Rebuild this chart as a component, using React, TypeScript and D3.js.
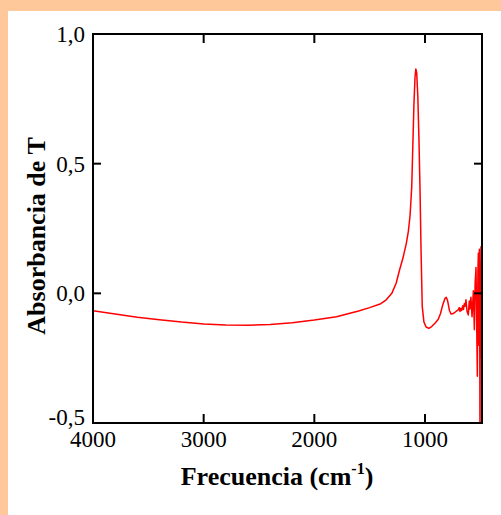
import React from "react";
import * as d3 from "d3";

const wavenumbers = [
  4000, 3800, 3600, 3400, 3200, 3000, 2800, 2600, 2400, 2200, 2000, 1800, 1600, 1500, 1400, 1350,
  1300, 1260, 1230, 1200, 1170, 1150, 1135, 1120, 1110, 1100, 1090, 1083, 1075, 1065, 1055, 1045,
  1035, 1025, 1010, 990, 965, 940, 910, 880, 860, 840, 820, 808, 795, 780, 765, 745, 720, 700,
  690, 684, 676, 668, 660, 652, 645, 639, 630, 620, 609, 600, 594, 585, 575, 563, 554, 547, 539,
  533, 527, 522, 518, 513, 509, 506, 503, 500, 497, 494, 491, 488, 486,
];
const absorbance = [
  -0.067, -0.08, -0.092, -0.102, -0.111, -0.118, -0.122, -0.123, -0.12, -0.113, -0.103, -0.09,
  -0.068, -0.055, -0.04, -0.025, 0.0, 0.04, 0.09, 0.135, 0.19, 0.24, 0.3, 0.41, 0.57, 0.73, 0.835,
  0.865, 0.85, 0.76, 0.6, 0.4, 0.15, -0.05, -0.11, -0.13, -0.135, -0.128, -0.115, -0.1, -0.078,
  -0.045, -0.02, -0.015, -0.03, -0.065, -0.08, -0.078, -0.07, -0.064, -0.055, -0.07, -0.058,
  -0.066, -0.048, -0.062, -0.04, -0.05, -0.025, -0.07, -0.083, -0.03, -0.06, -0.015, -0.09, 0.01,
  -0.14, 0.04, 0.1, -0.12, -0.32, 0.08, 0.155, -0.2, 0.17, -0.05, -0.6, 0.12, -0.25, 0.18, -0.1,
  0.05, -0.6,
];
const xTicks = [4000, 3000, 2000, 1000];
const yTicks = [1.0, 0.5, 0.0, -0.5];
const xTickLabels = ["4000", "3000", "2000", "1000"];
const yTickLabels = ["1,0", "0,5", "0,0", "-0,5"];

export default function App() {
  const W = 501;
  const H = 515;
  const left = 93;
  const right = 482;
  const top = 34;
  const bottom = 423;

  const x = d3.scaleLinear().domain([4000, 485]).range([left, right]);
  const y = d3.scaleLinear().domain([-0.5, 1.0]).range([bottom, top]);

  const data = wavenumbers.map((w, i) => ({ w, a: absorbance[i] }));
  const line = d3
    .line<{ w: number; a: number }>()
    .x((d) => x(d.w))
    .y((d) => y(d.a))
    .curve(d3.curveLinear);

  const fontStyle = { fontFamily: '"Liberation Serif", "Times New Roman", Times, serif' };

  return (
    <svg
      width={W}
      height={H}
      style={{ position: "absolute", left: 0, top: 0, display: "block" }}
    >
      <rect x={0} y={0} width={W} height={H} fill="#FFC89A" />
      <rect x={8} y={11} width={W - 8} height={H - 11} fill="#FFFFFF" />
      <defs>
        <clipPath id="plotclip">
          <rect x={left} y={top} width={right - left} height={bottom - top} />
        </clipPath>
      </defs>
      <path
        d={line(data) || ""}
        fill="none"
        stroke="#FF0000"
        strokeWidth={1.5}
        strokeLinejoin="round"
        clipPath="url(#plotclip)"
      />
      <rect
        x={left}
        y={top}
        width={right - left}
        height={bottom - top}
        fill="none"
        stroke="#000"
        strokeWidth={2}
      />
      {xTicks.map((t, i) => (
        <g key={"xt" + i}>
          <line x1={x(t)} x2={x(t)} y1={bottom} y2={bottom - 9} stroke="#000" strokeWidth={2} />
          <line x1={x(t)} x2={x(t)} y1={top} y2={top + 9} stroke="#000" strokeWidth={2} />
          <text x={x(t)} y={447} textAnchor="middle" style={fontStyle} fontSize={23} fill="#000">
            {xTickLabels[i]}
          </text>
        </g>
      ))}
      {yTicks.map((t, i) => (
        <g key={"yt" + i}>
          <line x1={left} x2={left + 8} y1={y(t)} y2={y(t)} stroke="#000" strokeWidth={2} />
          <line x1={right} x2={right - 8} y1={y(t)} y2={y(t)} stroke="#000" strokeWidth={2} />
          <text
            x={85}
            y={y(t) + (i === yTicks.length - 1 ? 2 : 8)}
            textAnchor="end"
            style={fontStyle}
            fontSize={23}
            fill="#000"
          >
            {yTickLabels[i]}
          </text>
        </g>
      ))}
      <text
        x={277}
        y={485}
        textAnchor="middle"
        style={fontStyle}
        fontSize={26}
        fontWeight="bold"
        fill="#000"
      >
        Frecuencia (cm
        <tspan fontSize={16} dy={-11}>
          -1
        </tspan>
        <tspan dy={11}>)</tspan>
      </text>
      <text
        transform={`translate(45, 236) rotate(-90)`}
        textAnchor="middle"
        style={fontStyle}
        fontSize={26}
        fontWeight="bold"
        fill="#000"
      >
        Absorbancia de T
      </text>
    </svg>
  );
}
